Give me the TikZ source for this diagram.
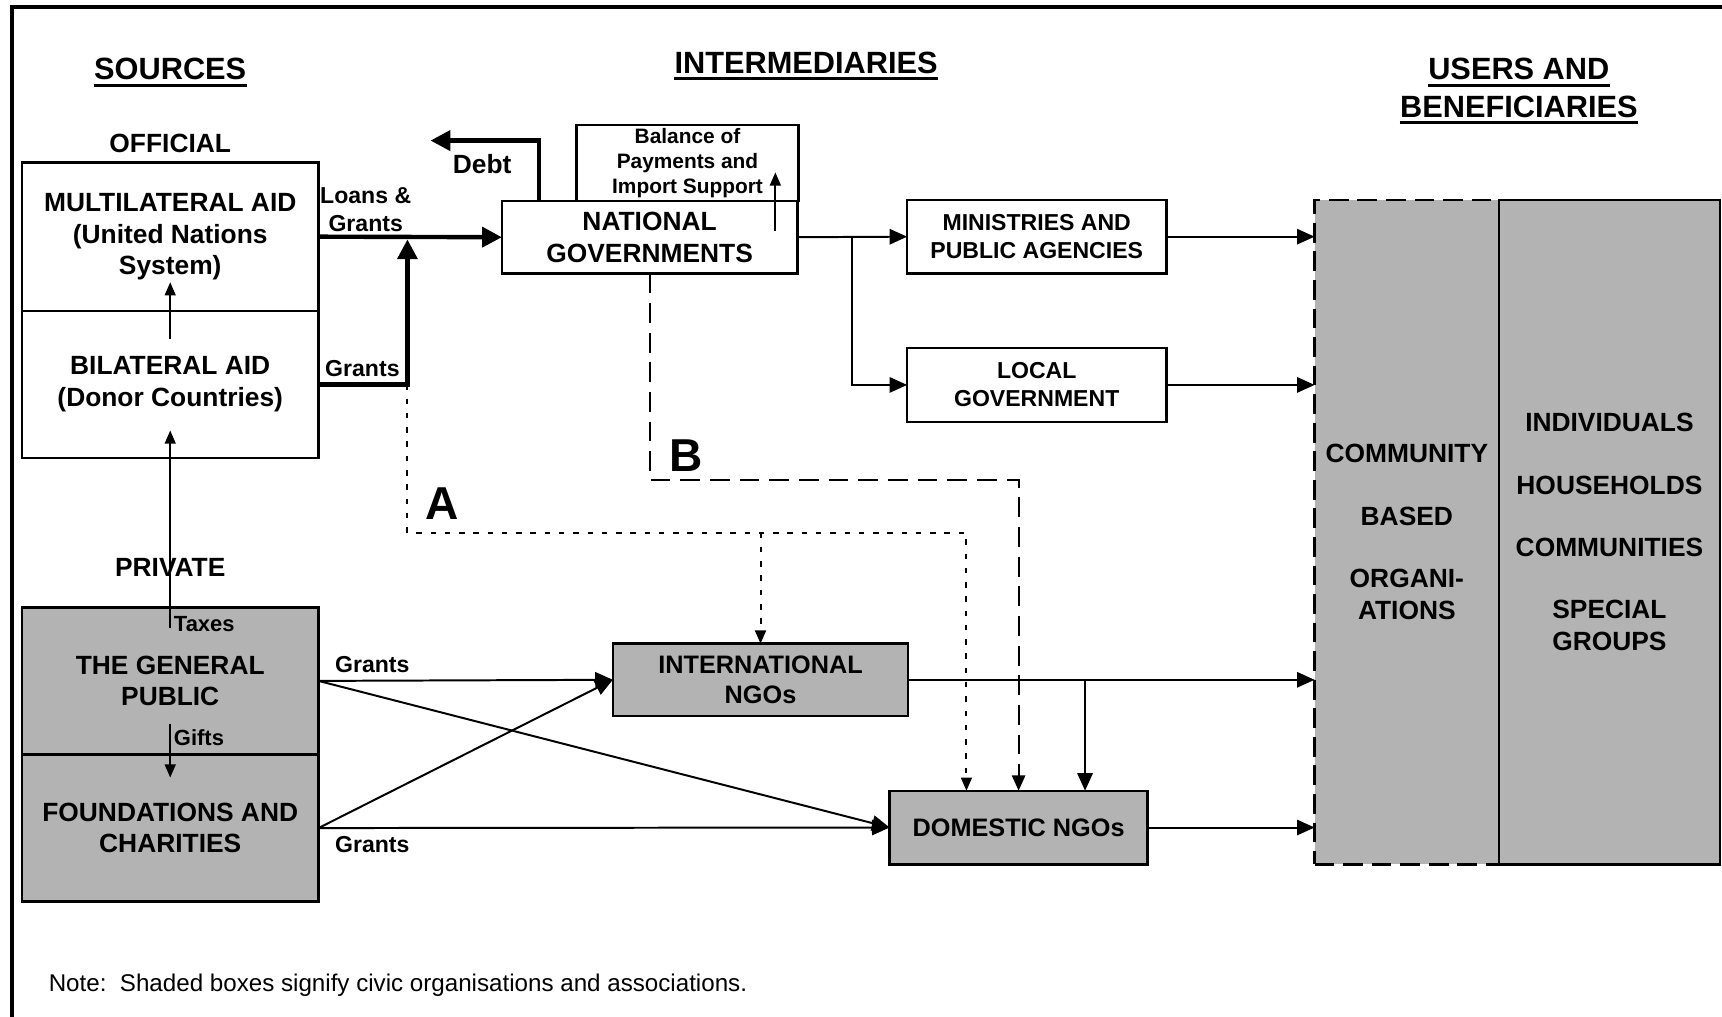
\documentclass[tikz,border=0pt]{standalone}
\usepackage{fontspec}
\setmainfont{Liberation Sans}
\usetikzlibrary{positioning,arrows.meta}
\definecolor{boxgray}{RGB}{179,179,179}

\begin{document}
\begin{tikzpicture}[x=0.5pt, y=-0.5pt,
box/.style={draw, line width=1.1pt, align=center, inner sep=0pt, outer sep=0pt, font=\fontsize{12}{14.4}\selectfont\bfseries},
shaded/.style={box, fill=boxgray},
head/.style={inner sep=0pt, font=\fontsize{14}{17}\selectfont\bfseries},
tag/.style={inner sep=0pt, align=center, font=\fontsize{12}{14.4}\selectfont\bfseries},
lbl/.style={inner sep=0pt, align=center, font=\fontsize{10.5}{12.6}\selectfont\bfseries},
flow/.style={line width=0.9pt, -{Triangle[length=8pt,width=7pt]}},
heavy/.style={line width=2pt, -{Triangle[length=9pt,width=9pt]}},
small/.style={line width=0.7pt, -{Triangle[length=6pt,width=5pt]}},
dotflow/.style={line width=0.9pt, dash pattern=on 2.5pt off 4pt, -{Triangle[length=6pt,width=5pt]}},
dashflow/.style={line width=1pt, dash pattern=on 9pt off 4.5pt, -{Triangle[length=7pt,width=6pt]}}]
\useasboundingbox (0,0) rectangle (1568,926);
\draw[line width=1.8pt] (11,926) -- (11,6) -- (1568,6);

\node[head] (sources) at (155,63) {SOURCES};
\node[head] (interm) at (734,57) {INTERMEDIARIES};
\node[head] (users) at (1383,63) {USERS AND};
\node[head] (benef) at (1383,97) {BENEFICIARIES};
\foreach \h in {sources,interm,users,benef}
  \draw[line width=1.4pt] ([yshift=-2.5pt]\h.base west) -- ([yshift=-2.5pt]\h.base east);

\node[tag] (official) at (155,131) {OFFICIAL};
\node[box, minimum width=135pt, minimum height=67.5pt] (multi) at (155,215.5) {MULTILATERAL AID\\(United Nations\\System)};
\node[box, minimum width=135pt, minimum height=67pt, below=0pt of multi] (bilat) {BILATERAL AID\\(Donor Countries)};
\node[tag] (private) at (155,517) {PRIVATE};
\node[shaded, minimum width=135pt, minimum height=67pt] (public) at (155,620) {THE GENERAL\\PUBLIC};
\node[shaded, minimum width=135pt, minimum height=67pt, below=0pt of public] (found) {FOUNDATIONS AND\\CHARITIES};

\node[box, minimum width=101pt, minimum height=34.5pt, font=\fontsize{9.5}{11.3}\selectfont\bfseries] (bop) at (626,148.5) {Balance of\\Payments and\\Import Support};
\node[box, minimum width=134.5pt, minimum height=33pt] (natgov) at (591.5,216) {NATIONAL\\GOVERNMENTS};
\node[box, minimum width=118pt, minimum height=33.5pt, font=\fontsize{10.5}{12.8}\selectfont\bfseries] (minis) at (944,215.5) {MINISTRIES AND\\PUBLIC AGENCIES};
\node[box, minimum width=118pt, minimum height=33.5pt, font=\fontsize{10.5}{12.8}\selectfont\bfseries] (localgov) at (944,350.5) {LOCAL\\GOVERNMENT};
\node[shaded, minimum width=134.5pt, minimum height=33pt, font=\fontsize{11.5}{14}\selectfont\bfseries] (intngo) at (692.5,619) {INTERNATIONAL\\NGOs};
\node[shaded, minimum width=117.5pt, minimum height=33.5pt, font=\fontsize{11.5}{14}\selectfont\bfseries] (domngo) at (927.5,753.5) {DOMESTIC NGOs};
\node[shaded, dash pattern=on 9pt off 4pt, minimum width=84pt, minimum height=302.5pt] (cbo) at (1281,484.5) {COMMUNITY\\[14pt]BASED\\[14pt]ORGANI-\\ATIONS};
\node[shaded, minimum width=100.5pt, minimum height=302.5pt] (indiv) at (1465.5,484.5) {INDIVIDUALS\\[14pt]HOUSEHOLDS\\[14pt]COMMUNITIES\\[14pt]SPECIAL\\GROUPS};

\node[lbl] (loans) at (333,191) {Loans \&\\Grants};
\node[lbl] (grantsa) at (330,336) {Grants};
\node[tag] (debt) at (439,149) {Debt};
\node[lbl, anchor=west, font=\fontsize{10}{12}\selectfont\bfseries] (taxes) at (158,568) {Taxes};
\node[lbl, anchor=west, font=\fontsize{10}{12}\selectfont\bfseries] (gifts) at (158,672) {Gifts};
\node[lbl] (grantsb) at (339,605) {Grants};
\node[lbl] (grantsc) at (339,769) {Grants};
\node[tag, font=\fontsize{21}{25}\selectfont\bfseries] (laba) at (403,459) {A};
\node[tag, font=\fontsize{21}{25}\selectfont\bfseries] (labb) at (625,415) {B};
\node[inner sep=0pt, anchor=west, font=\fontsize{11}{13}\selectfont] (note) at (44,897) {Note:\ \ Shaded boxes signify civic organisations and associations.};

\coordinate (join) at (371,218);
\coordinate (debtend) at (392,128);
\coordinate (fork) at (776,216);
\coordinate (fork2) at (988,619);
\coordinate (abend) at (371,485);
\coordinate (bbend) at (591.5,437);

\draw[heavy] (multi.east) -- (natgov.west);
\draw[heavy] (bilat.east) -| (join);
\draw[heavy] ([xshift=17pt]natgov.north west) |- (debtend);
\draw[small, line width=0.8pt] ([xshift=-10pt,yshift=-13.5pt]natgov.north east) -- ([xshift=-10pt,yshift=13pt]natgov.north east);
\draw[flow] (natgov.east) -- (minis.west);
\draw[flow] (fork) |- (localgov.west);
\draw[flow] (minis.east) -- (minis.east -| cbo.west);
\draw[flow] (localgov.east) -- (localgov.east -| cbo.west);
\draw[flow] (intngo.east) -- (intngo.east -| cbo.west);
\draw[flow] (domngo.east) -- (domngo.east -| cbo.west);
\draw[flow] (fork2) -- (fork2 |- domngo.north);
\draw[flow] (public.east) -- (intngo.west);
\draw[flow] (public.east) -- (domngo.west);
\draw[flow] (found.east) -- (intngo.west);
\draw[flow] (found.east) -- (domngo.west);
\draw[small] ([yshift=-13pt]bilat.north) -- ([yshift=13pt]multi.south);
\draw[small] ([yshift=-9.5pt]public.north) -- ([yshift=12.5pt]bilat.south);
\draw[small] ([yshift=14pt]public.south) -- ([yshift=-10.5pt]found.north);
\draw[dotflow] (join |- bilat.east) -- (abend) -| ([xshift=-23.75pt]domngo.north);
\draw[dotflow] (abend -| intngo.north) -- (intngo.north);
\draw[dashflow] (natgov.south) -- (bbend) -| (domngo.north);
\end{tikzpicture}
\end{document}
